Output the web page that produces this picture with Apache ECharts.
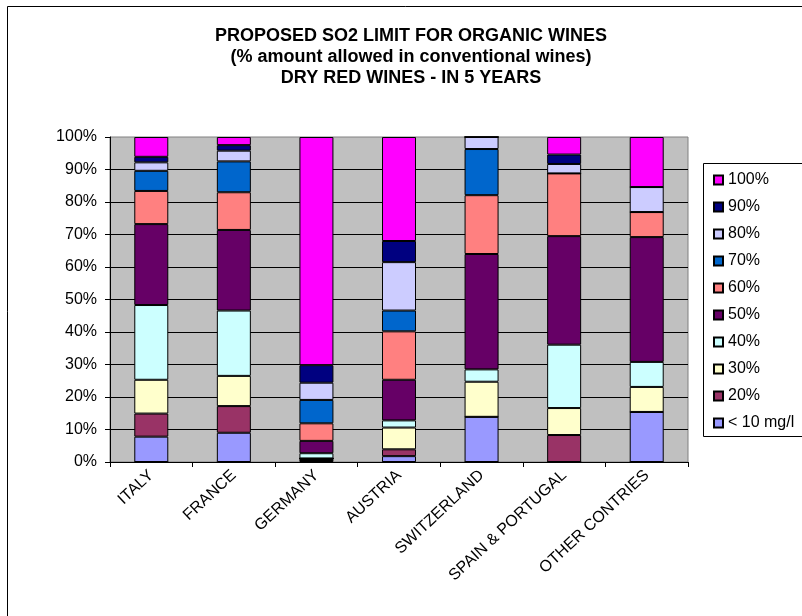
<!DOCTYPE html>
<html>
<head>
<meta charset="utf-8">
<style>
  html, body { margin: 0; padding: 0; background: #ffffff; }
  #chart { width: 802px; height: 616px; }
</style>
<script src="https://cdn.jsdelivr.net/npm/echarts@6/dist/echarts.min.js"></script>
</head>
<body>
<div id="chart"></div>
<script>
// Survey answers per region, share of respondents (%) for each proposed limit
const categories = ['ITALY', 'FRANCE', 'GERMANY', 'AUSTRIA', 'SWITZERLAND', 'SPAIN & PORTUGAL', 'OTHER CONTRIES'];
const yTicks = [0, 10, 20, 30, 40, 50, 60, 70, 80, 90, 100];

const noAnswer = [0, 0, 1.1, 0, 0, 0, 0];
const below10 = [7.8, 9.0, 0, 1.8, 13.9, 0, 15.4];
const pct20 = [7.1, 8.2, 0, 2.1, 0, 8.3, 0];
const pct30 = [10.4, 9.3, 0, 6.7, 10.8, 8.3, 7.7];
const pct40 = [23.0, 20.1, 1.6, 2.2, 3.8, 19.5, 7.7];
const pct50 = [24.9, 24.8, 3.8, 12.5, 35.5, 33.4, 38.4];
const pct60 = [10.2, 11.6, 5.4, 14.9, 18.1, 19.3, 7.7];
const pct70 = [6.2, 9.5, 7.2, 6.4, 14.2, 0, 0];
const pct80 = [2.6, 3.3, 5.3, 14.9, 3.7, 2.9, 7.7];
const pct90 = [1.7, 1.7, 5.4, 6.5, 0, 2.9, 0];
const pct100 = [6.1, 2.5, 70.2, 32.0, 0, 5.4, 15.4];

const seriesNames = ['', '< 10 mg/l', '20%', '30%', '40%', '50%', '60%', '70%', '80%', '90%', '100%'];
const seriesValues = [noAnswer, below10, pct20, pct30, pct40, pct50, pct60, pct70, pct80, pct90, pct100];
const seriesColors = ['#000000', '#9999FF', '#993366', '#FFFFCC', '#CCFFFF', '#660066',
                      '#FF8080', '#0066CC', '#CCCCFF', '#000080', '#FF00FF'];

const FONT = 'Liberation Sans, Arial, sans-serif';

const chart = echarts.init(document.getElementById('chart'), null, { renderer: 'canvas' });

const series = seriesValues.map((vals, i) => ({
  name: seriesNames[i] || 'n/a',
  type: 'bar',
  stack: 'total',
  barWidth: 34,
  data: vals,
  itemStyle: { color: seriesColors[i], borderColor: '#000000', borderWidth: 1 }
}));

chart.setOption({
  animation: false,
  backgroundColor: '#ffffff',
  title: {
    text: 'PROPOSED SO2 LIMIT FOR ORGANIC WINES\n(% amount allowed in conventional wines)\nDRY RED WINES - IN 5 YEARS',
    left: 406,
    textAlign: 'center',
    top: 21,
    textStyle: { fontFamily: FONT, fontSize: 18, fontWeight: 'bold', color: '#000000', lineHeight: 21 }
  },
  legend: {
    orient: 'vertical',
    left: 708,
    top: 167,
    itemWidth: 9,
    itemHeight: 9,
    itemGap: 11,
    icon: 'rect',
    data: seriesNames.filter(n => n).slice().reverse(),
    textStyle: { fontFamily: FONT, fontSize: 16, color: '#000000' }
  },
  grid: { left: 110, right: 114, top: 137, bottom: 154, show: true, backgroundColor: '#C0C0C0', borderColor: '#808080', borderWidth: 1 },
  xAxis: {
    type: 'category',
    data: categories,
    axisLine: { lineStyle: { color: '#000000', width: 1 } },
    axisTick: { show: true, length: 5, alignWithLabel: false, lineStyle: { color: '#000000' } },
    axisLabel: { rotate: 43, interval: 0, margin: 11, fontFamily: FONT, fontSize: 16, color: '#000000' }
  },
  yAxis: {
    type: 'value',
    min: yTicks[0],
    max: yTicks[yTicks.length - 1],
    interval: 10,
    axisLine: { show: true, lineStyle: { color: '#000000', width: 1 } },
    axisTick: { show: true, length: 5, lineStyle: { color: '#000000' } },
    axisLabel: { formatter: '{value}%', margin: 13, fontFamily: FONT, fontSize: 16, color: '#000000' },
    splitLine: { show: true, showMaxLine: false, lineStyle: { color: '#000000', width: 1 } }
  },
  graphic: [
    {
      type: 'rect',
      shape: { x: 7.5, y: 6.5, width: 1000, height: 800 },
      style: { fill: 'none', stroke: '#000000', lineWidth: 1 },
      silent: true,
      z: -1
    },
    {
      type: 'rect',
      shape: { x: 703.5, y: 163.5, width: 300, height: 273 },
      style: { fill: '#ffffff', stroke: '#000000', lineWidth: 1 },
      silent: true,
      z: 0
    }
  ],
  series: series
});
</script>
</body>
</html>
